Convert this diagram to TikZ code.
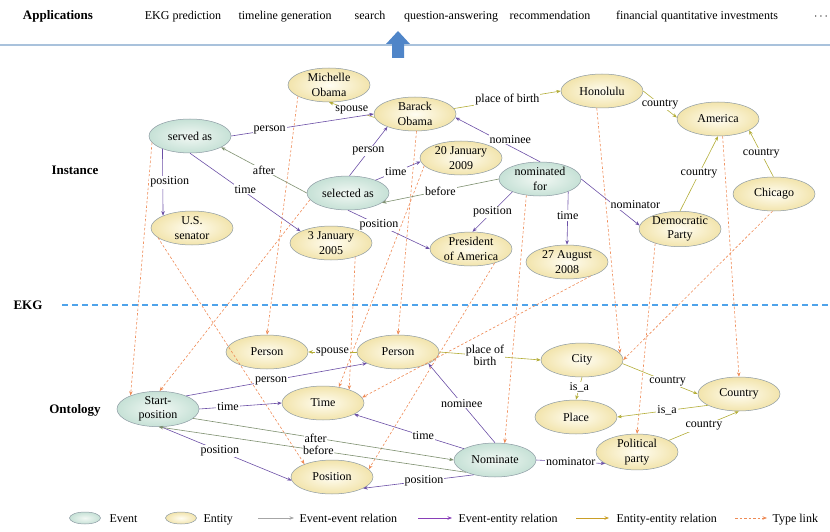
\documentclass[tikz,border=0pt]{standalone}
\usepackage{fontspec}
\setmainfont{Liberation Serif}
\usetikzlibrary{shapes.geometric,arrows.meta}
\definecolor{evout}{HTML}{C6E1D6}
\definecolor{evin}{HTML}{F2F8F4}
\definecolor{enout}{HTML}{F2E4AC}
\definecolor{enin}{HTML}{FFFDF2}
\definecolor{bordc}{HTML}{8C9AA3}
\definecolor{eecol}{HTML}{7D8F6E}
\definecolor{ercol}{HTML}{6B4FA6}
\definecolor{nncol}{HTML}{B3AD38}
\definecolor{tycol}{HTML}{EE8A55}
\definecolor{appline}{HTML}{A9C2DC}
\definecolor{ekgline}{HTML}{4FA3EA}
\definecolor{arrblue}{HTML}{4F85C8}
\begin{document}
\begin{tikzpicture}[x=1pt,y=-1pt,
  every node/.style={font=\fontsize{12}{14.5}\selectfont},
  ev/.style={ellipse, draw=bordc, line width=0.5pt, minimum width=82pt, minimum height=34pt, inner sep=0pt, inner color=evin, outer color=evout, align=center},
  en/.style={ellipse, draw=bordc, line width=0.5pt, minimum width=82pt, minimum height=34pt, inner sep=0pt, inner color=enin, outer color=enout, align=center},
  tip/.style={-{Stealth[length=4.5pt,width=3.5pt]}},
  eerel/.style={tip, draw=eecol, line width=0.6pt},
  errel/.style={tip, draw=ercol, line width=0.6pt},
  nnrel/.style={tip, draw=nncol, line width=0.6pt},
  tyrel/.style={tip, draw=tycol, line width=0.6pt, dash pattern=on 2.5pt off 2pt},
  lb/.style={fill=white, inner sep=1pt, align=center},
  ttl/.style={font=\fontsize{13}{15}\selectfont\bfseries},
  bartxt/.style={anchor=base},
  legtxt/.style={anchor=base west}
]
\useasboundingbox (0,0) rectangle (830,532);

% top bar
\node[ttl,bartxt] (apps) at (58,20) {Applications};
\node[bartxt] (a1) at (183,20) {EKG prediction};
\node[bartxt] (a2) at (285,20) {timeline generation};
\node[bartxt] (a3) at (370,20) {search};
\node[bartxt] (a4) at (451,20) {question-answering};
\node[bartxt] (a5) at (550,20) {recommendation};
\node[bartxt] (a6) at (697,20) {financial quantitative investments};
\node[bartxt] (a7) at (821,20) {$\cdots$};
\coordinate (la) at (0,45);
\coordinate (lb) at (830,45);
\draw[appline, line width=1.6pt] (la) -- (lb);
\fill[arrblue] (392,58) -- (404,58) -- (404,44) -- (410,44) -- (398,31) -- (386,44) -- (392,44) -- cycle;

% section labels
\node[ttl] (ekg) at (28,305) {EKG};
\node[ttl] (inst) at (75,170) {Instance};
\node[ttl] (onto) at (75,410) {Ontology};
\coordinate (ea) at (62,305);
\coordinate (eb) at (830,305);
\draw[ekgline, line width=1.1pt, dash pattern=on 6pt off 4pt] (ea) -- (eb);

% instance nodes
\node[en] (mo) at (329,85) {Michelle\\Obama};
\node[en] (bo) at (415,114) {Barack\\Obama};
\node[ev] (sa) at (190,136) {served as};
\node[en] (usa) at (192,228) {U.S.\\senator};
\node[ev] (sel) at (348,193) {selected as};
\node[en] (j05) at (331,243) {3 January\\2005};
\node[en] (j09) at (461,158) {20 January\\2009};
\node[ev] (nom) at (540,179) {nominated\\for};
\node[en] (pres) at (471,249) {President\\of America};
\node[en] (aug) at (567,262) {27 August\\2008};
\node[en] (hon) at (602,91) {Honolulu};
\node[en] (am) at (718,119) {America};
\node[en] (dem) at (680,229) {Democratic\\Party};
\node[en] (chi) at (774,194) {Chicago};

% ontology nodes
\node[en] (pl) at (267,352) {Person};
\node[en] (pr) at (398,352) {Person};
\node[ev] (sp) at (158,409) {Start-\\position};
\node[en] (tm) at (323,403) {Time};
\node[en] (pos) at (332,477) {Position};
\node[en] (city) at (582,360) {City};
\node[en] (plc) at (576,417) {Place};
\node[en] (cty) at (739,394) {Country};
\node[en] (pp) at (637,452) {Political\\party};
\node[ev] (nomi) at (495,460) {Nominate};

% type links
\draw[tyrel] (sa.190) -- (sp.154);
\draw[tyrel] (sel.190) -- (sp.85);
\draw[tyrel] (mo.200) -- (pl.north);
\draw[tyrel] (usa.196) -- (pos.155);
\draw[tyrel] (j05.330) -- (tm.27);
\draw[tyrel] (j09.192) -- (tm.45);
\draw[tyrel] (bo.275) -- (pr.north);
\draw[tyrel] (pres.329) -- (pos.12);
\draw[tyrel] (nom.230) -- (nomi.60);
\draw[tyrel] (aug.329) -- (tm.8);
\draw[tyrel] (hon.253) -- (city.10);
\draw[tyrel] (chi.265) -- (city.0);
\draw[tyrel] (dem.210) -- (pp.north);
\draw[tyrel] (am.285) -- (cty.north);

% instance relations
\draw[nnrel] (bo.185) -- node[lb,pos=.5]{spouse} (mo.south);
\draw[errel] (sa.east) -- node[lb,pos=.27]{person} (bo.west);
\draw[errel] (sa.205) -- node[lb,pos=.5,xshift=7pt]{position} (usa.157);
\draw[errel] (sa.south) -- node[lb,pos=.5,yshift=3pt]{time} (j05.159);
\draw[eerel] (sel.west) -- node[lb,pos=.5]{after} (sa.340);
\draw[errel] (sel.85) -- node[lb,pos=.5]{person} (bo.205);
\draw[errel] (sel.25) -- node[lb,pos=.45]{time} (j09.185);
\draw[errel] (sel.south) -- node[lb,pos=.38]{position} (pres.west);
\draw[eerel] (nom.west) -- node[lb,pos=.5]{before} (sel.344);
\draw[errel] (nom.north) -- node[lb,pos=.35,yshift=7pt]{nominee} (bo.355);
\draw[errel] (nom.205) -- node[lb,pos=.5]{position} (pres.85);
\draw[errel] (nom.336) -- node[lb,pos=.45]{time} (aug.north);
\draw[errel] (nom.east) -- node[lb,pos=.55,xshift=22pt]{nominator} (dem.175);
\draw[nnrel] (bo.8) -- node[lb,pos=.5]{place of birth} (hon.west);
\draw[nnrel] (hon.east) -- node[lb,pos=.5]{country} (am.178);
\draw[nnrel] (dem.north) -- node[lb,pos=.5]{country} (am.south);
\draw[nnrel] (chi.92) -- node[lb,pos=.5]{country} (am.340);

% ontology relations
\draw[nnrel] (pr.west) -- node[lb,pos=.5]{spouse} (pl.east);
\draw[nnrel] (pr.east) -- node[lb,pos=.45,font=\fontsize{12}{12}\selectfont]{place of\\birth} (city.west);
\draw[errel] (sp.25) -- node[lb,pos=.47]{person} (pr.200);
\draw[errel] (sp.east) -- node[lb,pos=.35]{time} (tm.west);
\draw[errel] (sp.280) -- node[lb,pos=.45]{position} (pos.185);
\draw[eerel] (sp.345) -- node[lb,pos=.47,inner sep=0.5pt]{after} (nomi.west);
\draw[eerel] (nomi.203) -- node[lb,pos=.48,inner sep=0.5pt]{before} (sp.272);
\draw[errel] (nomi.160) -- node[lb,pos=.37]{time} (tm.340);
\draw[errel] (nomi.north) -- node[lb,pos=.5]{nominee} (pr.339);
\draw[errel] (nomi.215) -- node[lb,pos=.45]{position} (pos.340);
\draw[errel] (nomi.east) -- node[lb,pos=.5]{nominator} (pp.200);
\draw[nnrel] (city.south) -- node[lb,pos=.45]{is\_a} (plc.north);
\draw[nnrel] (city.355) -- node[lb,pos=.6]{country} (cty.west);
\draw[nnrel] (cty.200) -- node[lb,pos=.45]{is\_a} (plc.east);
\draw[nnrel] (pp.20) -- node[lb,pos=.5]{country} (cty.south);

% legend
\node[ev, minimum width=31pt, minimum height=12pt] (lev) at (85,518) {};
\node[legtxt] (levt) at (106,522) {Event};
\node[en, minimum width=31pt, minimum height=12pt] (len) at (181,518) {};
\node[legtxt] (lent) at (200,522) {Entity};
\coordinate (g1a) at (258,518); \coordinate (g1b) at (294,518);
\draw[tip, draw=gray!70, line width=0.6pt] (g1a) -- (g1b);
\node[legtxt] (g1t) at (296,522) {Event-event relation};
\coordinate (g2a) at (418,518); \coordinate (g2b) at (452,518);
\draw[tip, draw=ercol!80!magenta, line width=0.6pt] (g2a) -- (g2b);
\node[legtxt] (g2t) at (455,522) {Event-entity relation};
\coordinate (g3a) at (576,518); \coordinate (g3b) at (609,518);
\draw[tip, draw=nncol!70!orange, line width=0.6pt] (g3a) -- (g3b);
\node[legtxt] (g3t) at (613,522) {Entity-entity relation};
\coordinate (g4a) at (735,518); \coordinate (g4b) at (767,518);
\draw[tyrel] (g4a) -- (g4b);
\node[legtxt] (g4t) at (769,522) {Type link};
\end{tikzpicture}
\end{document}
